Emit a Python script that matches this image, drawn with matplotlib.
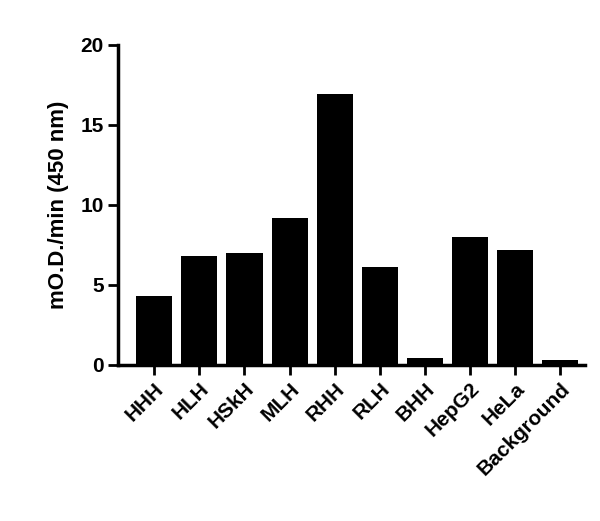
import matplotlib.pyplot as plt

samples = ['HHH', 'HLH', 'HSkH', 'MLH', 'RHH', 'RLH', 'BHH', 'HepG2', 'HeLa', 'Background']
rates = [4.3, 6.8, 7.0, 9.2, 16.9, 6.1, 0.4, 8.0, 7.2, 0.3]

plt.rcParams['font.family'] = 'Liberation Sans'
plt.rcParams['font.weight'] = 'bold'

fig = plt.figure(figsize=(6, 5.21), dpi=100)
ax = fig.add_axes([0.197, 0.30, 0.778, 0.614])
ax.bar(range(len(samples)), rates, width=0.8, color='black')

ax.set_xlim(-0.8, 9.55)
ax.set_ylim(0, 20)
ax.set_yticks([0, 5, 10, 15, 20])
ax.set_xticks(range(len(samples)))
ax.set_xticklabels(samples, rotation=45, ha='right', rotation_mode='anchor', fontsize=15, fontweight='bold')
ax.tick_params(axis='y', labelsize=15, width=2, length=7)
ax.tick_params(axis='x', width=2, length=7)
for lab in ax.get_yticklabels():
    lab.set_fontweight('bold')
ax.set_ylabel('mO.D./min (450 nm)', fontsize=16, fontweight='bold', labelpad=8)

ax.spines['top'].set_visible(False)
ax.spines['right'].set_visible(False)
ax.spines['left'].set_linewidth(2.5)
ax.spines['bottom'].set_linewidth(2.5)

fig.savefig('out.png')
